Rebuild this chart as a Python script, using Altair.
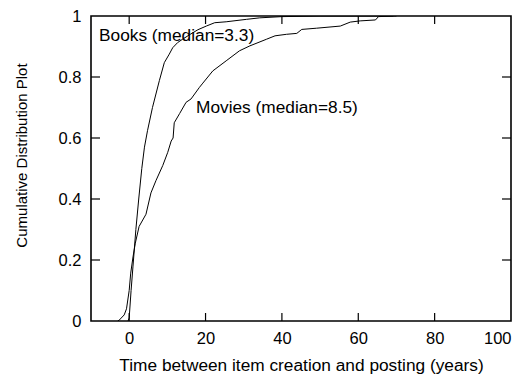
import altair as alt
import pandas as pd

# ---- data ----
books_x = [-0.3, 0.0, 0.5, 1.0, 1.75, 2.5, 3.3, 4.0, 4.8, 6.1, 7.9, 9.2, 10.5, 11.4,
           12.7, 14.0, 16.0, 18.0, 20.2, 22.4, 25.4, 30.7, 34.2, 40.0, 50.0, 70.0]
books_y = [0.0, 0.01, 0.10, 0.18, 0.30, 0.40, 0.50, 0.57, 0.624, 0.70, 0.788, 0.847, 0.875, 0.896,
           0.913, 0.924, 0.94, 0.955, 0.967, 0.978, 0.981, 0.989, 0.994, 0.998, 1.0, 1.0]

movies_x = [-3.0, -2.6, -1.3, -0.7, 0.0, 0.4, 1.0, 1.6, 2.6, 4.4, 5.7, 7.0, 8.8, 10.1, 11.0,
            11.5, 11.8, 13.2, 14.9, 16.2, 18.4, 19.3, 21.9, 25.4, 28.9, 31.6, 36.0, 38.2,
            41.2, 43.9, 45.2, 49.1, 55.3, 57.9, 60.5, 64.5, 65.3, 69.2]
movies_y = [0.0, 0.003, 0.02, 0.04, 0.10, 0.157, 0.21, 0.255, 0.31, 0.35, 0.42, 0.46, 0.51, 0.553, 0.59,
            0.60, 0.65, 0.68, 0.717, 0.728, 0.766, 0.78, 0.82, 0.853, 0.886, 0.902, 0.924, 0.935,
            0.94, 0.943, 0.956, 0.96, 0.967, 0.98, 0.984, 0.987, 0.998, 1.0]

x_ticks = [0, 20, 40, 60, 80, 100]
y_ticks = [0, 0.2, 0.4, 0.6, 0.8, 1]
x_inner_ticks = [0, 20, 40, 60, 80]
y_inner_ticks = [0.2, 0.4, 0.6, 0.8]

label_text = ["Books (median=3.3)", "Movies (median=8.5)"]
label_x = [-7.9, 17.5]
label_y = [0.935, 0.70]

x_title = "Time between item creation and posting (years)"
y_title = "Cumulative Distribution Plot"

# ---- tables ----
rows = []
for i, (a, b) in enumerate(zip(books_x, books_y)):
    rows.append({"series": "Books", "x": a, "y": b, "i": i})
for i, (a, b) in enumerate(zip(movies_x, movies_y)):
    rows.append({"series": "Movies", "x": a, "y": b, "i": i})
df = pd.DataFrame(rows)
labels = pd.DataFrame({"t": label_text, "x": label_x, "y": label_y})
xt = pd.DataFrame({"x": x_inner_ticks})
yt = pd.DataFrame({"y": y_inner_ticks})

W, H = 420, 305
FONT = "Liberation Sans"

xs = alt.Scale(domain=[-10, 100], nice=False, zero=False)
ys = alt.Scale(domain=[0, 1], nice=False, zero=False)
x_axis = alt.Axis(values=x_ticks, format="d", title=x_title, labelFontSize=16.5,
                  labelPadding=9, titlePadding=10, titleFontSize=17.3)
y_axis = alt.Axis(values=y_ticks, format="~g", title=y_title, labelFontSize=16.5,
                  labelPadding=10, titlePadding=29, titleFontSize=15, titleY=139)

lines = alt.Chart(df).mark_line(color="black", strokeWidth=1, clip=True).encode(
    x=alt.X("x:Q", scale=xs, axis=x_axis),
    y=alt.Y("y:Q", scale=ys, axis=y_axis),
    detail="series:N",
    order="i:Q",
)

txt = alt.Chart(labels).mark_text(align="left", baseline="middle", font=FONT,
                                  fontSize=17.3, color="black").encode(
    x=alt.X("x:Q", scale=xs, axis=x_axis),
    y=alt.Y("y:Q", scale=ys, axis=y_axis),
    text="t:N",
)

tick_bottom = alt.Chart(xt).mark_rule(color="black", strokeWidth=1.2).encode(
    x=alt.X("x:Q", scale=xs, axis=x_axis), y=alt.value(H), y2=alt.value(H - 8))
tick_top = alt.Chart(xt).mark_rule(color="black", strokeWidth=1.2).encode(
    x=alt.X("x:Q", scale=xs, axis=x_axis), y=alt.value(0), y2=alt.value(8))
tick_left = alt.Chart(yt).mark_rule(color="black", strokeWidth=1.2).encode(
    y=alt.Y("y:Q", scale=ys, axis=y_axis), x=alt.value(0), x2=alt.value(9))
tick_right = alt.Chart(yt).mark_rule(color="black", strokeWidth=1.2).encode(
    y=alt.Y("y:Q", scale=ys, axis=y_axis), x=alt.value(W - 9), x2=alt.value(W))

chart = alt.layer(lines, txt, tick_bottom, tick_top, tick_left, tick_right).properties(
    width=W, height=H,
    autosize=alt.AutoSizeParams(type="none"),
    padding={"left": 83, "top": 8, "right": 12, "bottom": 60},
).configure_view(
    stroke="black", strokeWidth=1.6
).configure_axis(
    ticks=False, domain=False, grid=False,
    labelFont=FONT, labelColor="black",
    titleFont=FONT, titleColor="black", titleFontWeight="normal",
)

chart.save("out.html", embed_options={"renderer": "svg", "actions": False})
